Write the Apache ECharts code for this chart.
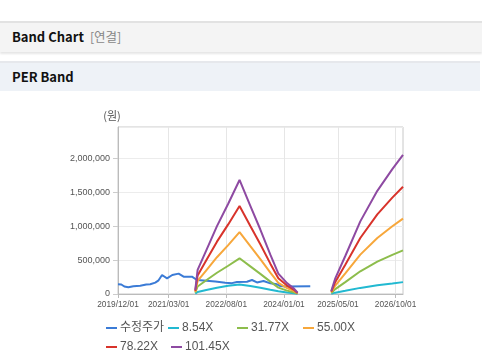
<!DOCTYPE html>
<html>
<head>
<meta charset="utf-8">
<script src="https://cdn.jsdelivr.net/npm/echarts@6/dist/echarts.min.js"></script>
<style>
  html, body { margin:0; padding:0; width:482px; height:362px; background:#fff; overflow:hidden; }
  .hdr1 { position:absolute; left:0; top:21px; width:482px; height:29px; background:#f4f4f4; border-top:2px solid #e2e2e2; box-shadow:0 2px 2px rgba(0,0,0,0.10); }
  .hdr2 { position:absolute; left:0; top:61px; width:480px; height:28px; background:#eef2f7; border-top:2px solid #e6e8ec; }
  .ttl { position:absolute; left:12px; font-family:'Noto Sans CJK KR','Noto Sans',sans-serif; font-weight:bold; font-size:13px; color:#111; line-height:16px; }
  .sub { font-weight:normal; color:#888; margin-left:6px; font-size:12.5px; }
  #chart { position:absolute; left:0; top:0; width:482px; height:362px; }
</style>
</head>
<body>
<div class="hdr1"><span class="ttl" style="top:6px">Band Chart<span class="sub">[연결]</span></span></div>
<div class="hdr2"><span class="ttl" style="top:6px">PER Band</span></div>
<div id="chart"></div>
<script>
const seriesNames = ['수정주가', '8.54X', '31.77X', '55.00X', '78.22X', '101.45X'];
const xTickLabels = ['2019/12/01', '2021/03/01', '2022/08/01', '2024/01/01', '2025/05/01', '2026/10/01'];

const priceDates = ['2019-12-01','2019-12-31','2020-01-27','2020-03-03','2020-04-17','2020-06-18','2020-08-11','2020-09-16','2020-10-31','2020-11-27','2020-12-31','2021-02-14','2021-04-02','2021-05-29','2021-07-13','2021-09-26','2021-11-10','2022-01-09','2022-04-24','2022-07-23','2022-09-21','2022-11-05','2023-02-03','2023-03-20','2023-05-04','2023-07-02','2023-09-01','2023-10-31','2023-11-30','2024-01-14','2024-08-25'];
const priceValues = [145000,140000,110000,99000,115000,122000,140000,143000,167000,196000,280000,231000,280000,300000,255000,255000,206000,200000,185000,167000,160000,177000,181000,206000,170000,191000,157000,143000,118000,110000,115000];

const bandDates = ['2021-10-26','2021-11-16','2022-02-02','2022-05-09','2022-08-18','2022-11-28','2023-03-05','2023-06-03','2023-09-01','2023-11-12','2024-01-29','2024-03-28','2024-05-03','2024-10-01','2025-03-02','2025-04-07','2025-07-06','2025-11-18','2026-04-20','2026-09-02','2026-12-07'];
const band854  = [5000,30000,60000,92000,120000,141000,118000,92000,62000,40000,22000,10000,2000,null,4000,20000,47000,90000,128000,155000,175000];
const band3177 = [19000,111000,202000,313000,416000,526000,407000,297000,182000,94000,50000,26000,6000,null,14000,72000,175000,335000,476000,576000,642000];
const band5500 = [33000,192000,349000,542000,720000,911000,704000,515000,315000,163000,87000,46000,11000,null,24000,125000,304000,580000,824000,998000,1111000];
const band7822 = [47000,273000,497000,771000,1025000,1295000,1001000,732000,447000,232000,124000,65000,16000,null,34000,178000,432000,825000,1172000,1419000,1580000];
const band10145 = [61000,354000,644000,1000000,1329000,1680000,1299000,950000,580000,300000,160000,84000,20000,null,45000,231000,560000,1070000,1520000,1840000,2049000];

const colors = ['#3b7bd6', '#22b9d1', '#8dbd4c', '#f7a73b', '#d8332b', '#8e4aa2'];

function toTs(s) { const p = s.replace(/\//g,'-').split('-').map(Number); return new Date(p[0], p[1]-1, p[2]).getTime(); }
function pair(dates, vals) { return dates.map((d, i) => [toTs(d), vals[i] == null ? null : vals[i]]); }
function pad(n) { return n < 10 ? '0' + n : '' + n; }

const xTickValues = xTickLabels.map(toTs);
const bands = [band854, band3177, band5500, band7822, band10145];

const series = [{
  name: seriesNames[0], type: 'line', showSymbol: false, symbol: 'none',
  lineStyle: { width: 2, color: colors[0] }, itemStyle: { color: colors[0] },
  data: pair(priceDates, priceValues)
}].concat(bands.map((b, i) => ({
  name: seriesNames[i+1], type: 'line', showSymbol: false, symbol: 'none', connectNulls: false,
  lineStyle: { width: 2, color: colors[i+1] }, itemStyle: { color: colors[i+1] },
  data: pair(bandDates, b)
})));

const legendPos = [[106, 322], [168, 322], [237, 322], [303, 322], [106, 341], [171, 341]];
const legends = seriesNames.map((n, i) => ({
  data: [n], left: legendPos[i][0], top: legendPos[i][1], padding: 0, itemGap: 0,
  icon: 'rect', itemWidth: 11, itemHeight: 2,
  textStyle: { fontSize: 12, color: '#555', fontFamily: "'Liberation Sans','Noto Sans CJK KR',sans-serif", padding: [0,0,0,-2] }
}));

const axisFont = "'Liberation Sans',Arial,sans-serif";
const chart = echarts.init(document.getElementById('chart'), null, { renderer: 'canvas' });
chart.setOption({
  animation: false,
  color: colors,
  grid: { left: 118, right: 79, top: 127, bottom: 68, show: true, borderColor: '#c8c8c8', borderWidth: 1, backgroundColor: 'transparent' },
  legend: legends,
  xAxis: {
    type: 'value', min: toTs('2019-12-01'), max: toTs('2026-12-07'),
    axisLine: { show: true, lineStyle: { color: '#bbb' } },
    axisTick: { show: true, length: 4, lineStyle: { color: '#bbb' }, customValues: xTickValues },
    splitLine: { show: true, lineStyle: { color: '#e6e6e6' } },
    axisLabel: { customValues: xTickValues, fontSize: 8.3, color: '#555', fontFamily: axisFont, margin: 7,
      formatter: v => { const d = new Date(v); return d.getFullYear() + '/' + pad(d.getMonth()+1) + '/' + pad(d.getDate()); } }
  },
  yAxis: {
    type: 'value', min: 0, max: 2460000, interval: 500000,
    name: '(원)', nameLocation: 'end', nameGap: 6,
    nameTextStyle: { fontSize: 11, color: '#555', fontFamily: "'Noto Sans CJK KR',sans-serif", align: 'center', padding: [0, 12, 0, 0] },
    axisLine: { show: true, lineStyle: { color: '#bbb' } },
    axisTick: { show: true, length: 5, lineStyle: { color: '#ccc' } },
    splitLine: { show: true, lineStyle: { color: '#ececec' } },
    axisLabel: { showMaxLabel: false, fontSize: 9, color: '#555', fontFamily: axisFont, margin: 8,
      formatter: v => v.toLocaleString('en-US') }
  },
  series: series
});
</script>
</body>
</html>
